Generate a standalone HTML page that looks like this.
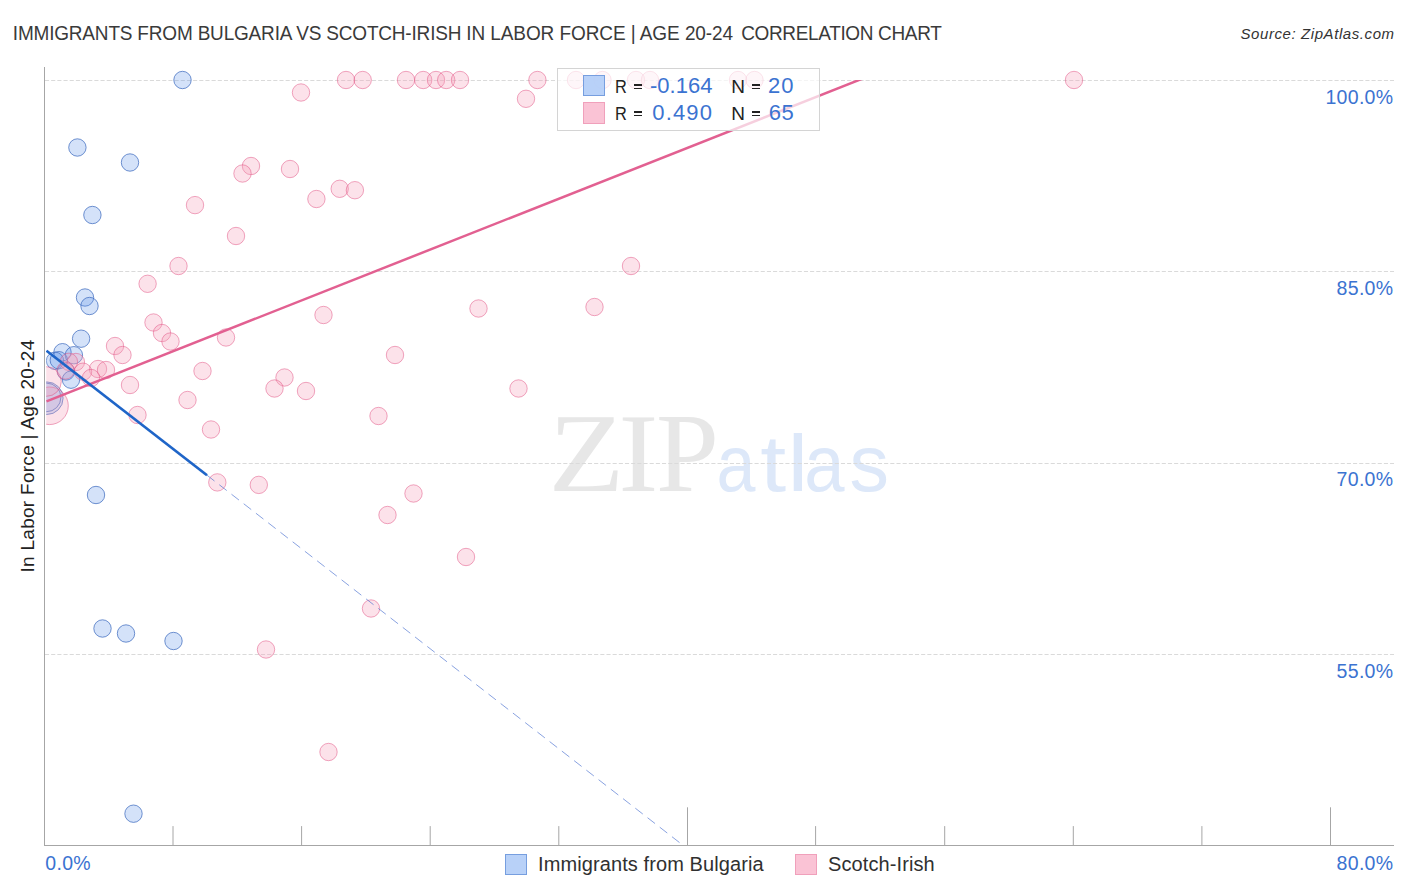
<!DOCTYPE html>
<html><head><meta charset="utf-8">
<style>
html,body{margin:0;padding:0;background:#fff;}
body{width:1406px;height:892px;position:relative;overflow:hidden;font-family:"Liberation Sans",sans-serif;}
svg{position:absolute;left:0;top:0;}
.t{position:absolute;white-space:nowrap;line-height:1;}
.tt{top:23.8px;font-size:19px;color:#3a3a3a;transform-origin:0 16.1px;transform:scaleY(1.07);}
#src{left:1240.5px;top:26px;font-size:15px;font-style:italic;color:#333;letter-spacing:0.58px;}
.yl{font-size:19.5px;color:#3b73d1;letter-spacing:0.3px;}
#ylab{left:26.6px;top:455.6px;font-size:19px;letter-spacing:0.28px;color:#222;transform:translate(-50%,-50%) rotate(-90deg);}
.g{stroke:#dadada;stroke-width:1;stroke-dasharray:4.1 2.07;}
.ax{stroke:#a6a6a6;stroke-width:1;}
.b{fill:rgba(100,150,235,0.28);stroke:rgba(60,105,190,0.72);stroke-width:1;}
.b2{fill:rgba(100,150,235,0.12);stroke:rgba(60,105,190,0.72);stroke-width:1;}
.p{fill:rgba(245,160,185,0.30);stroke:rgba(225,80,130,0.5);stroke-width:1;}
#leg{left:557px;top:68px;width:260.5px;height:61px;border:1px solid #d4d4d4;background:rgba(255,255,255,0.7);box-sizing:content-box;}
.sw{position:absolute;width:20px;height:19px;box-sizing:content-box;}
.swb{background:rgba(178,205,247,0.92);border:1px solid #769edf;}
.swp{background:#fac3d5;border:1px solid #f0a0bb;}
.lt{color:#222;}
.lb{color:#3b73d1;}
.bl{font-size:20px;color:#303030;letter-spacing:0.1px;}
</style></head><body>
<div class="t tt" style="left:12.8px;letter-spacing:-0.19px;">IMMIGRANTS FROM BULGARIA VS SCOTCH-IRISH IN</div><div class="t tt" style="left:490.2px;letter-spacing:-0.075px;">LABOR FORCE | AGE 20-24</div><div class="t tt" style="left:741.2px;letter-spacing:-0.35px;">CORRELATION CHART</div>
<div class="t" id="src">Source: ZipAtlas.com</div>
<svg width="1406" height="892" viewBox="0 0 1406 892">
<defs>
<clipPath id="cp"><rect x="46.2" y="60" width="1360" height="785"/></clipPath>
<clipPath id="cl"><rect x="46" y="80" width="1360" height="765"/></clipPath>
</defs>
<g font-family="Liberation Serif, serif" font-size="109" fill="#e7e7e7">
<text transform="translate(548.4,491) scale(1.14,1.021)">Z</text>
<text transform="translate(618.4,491) scale(1.096,1.021)">I</text>
<text transform="translate(655.9,491) scale(1.038,1.021)">P</text>
</g>
<g font-family="Liberation Sans, sans-serif" font-size="79" fill="#dde8f9">
<text transform="translate(716.5,491) scale(0.886,1)">a</text>
<text transform="translate(760.2,491) scale(1.18,1)">t</text>
<text transform="translate(787.5,491) scale(1.18,1)">l</text>
<text transform="translate(804.3,491) scale(0.916,1)">a</text>
<text transform="translate(849.4,491) scale(1.0,1)">s</text>
</g>
<line class="g" x1="45" x2="1394" y1="80.5" y2="80.5"/>
<line class="g" x1="45" x2="1394" y1="271.5" y2="271.5"/>
<line class="g" x1="45" x2="1394" y1="463.5" y2="463.5"/>
<line class="g" x1="45" x2="1394" y1="654.5" y2="654.5"/>
<line class="ax" x1="44.5" x2="44.5" y1="67" y2="846"/>
<line class="ax" x1="44" x2="1394" y1="845.5" y2="845.5"/>
<line class="ax" x1="173.0" x2="173.0" y1="826.1" y2="845"/>
<line class="ax" x1="301.6" x2="301.6" y1="826.1" y2="845"/>
<line class="ax" x1="430.2" x2="430.2" y1="826.1" y2="845"/>
<line class="ax" x1="558.8" x2="558.8" y1="826.1" y2="845"/>
<line class="ax" x1="687.5" x2="687.5" y1="807.3" y2="845"/>
<line class="ax" x1="815.6" x2="815.6" y1="826.1" y2="845"/>
<line class="ax" x1="944.7" x2="944.7" y1="826.1" y2="845"/>
<line class="ax" x1="1073.3" x2="1073.3" y1="826.1" y2="845"/>
<line class="ax" x1="1201.9" x2="1201.9" y1="826.1" y2="845"/>
<line class="ax" x1="1330.5" x2="1330.5" y1="807.3" y2="845"/>
<g clip-path="url(#cp)">
<circle class="b" cx="46.8" cy="398.2" r="16.3"/>
<circle class="b2" cx="46.6" cy="397.4" r="14.3"/>
<circle class="b" cx="182.5" cy="80" r="8.7"/>
<circle class="b" cx="77.4" cy="147.5" r="8.7"/>
<circle class="b" cx="130" cy="162.5" r="8.7"/>
<circle class="b" cx="92.4" cy="215" r="8.7"/>
<circle class="b" cx="85" cy="297.5" r="8.7"/>
<circle class="b" cx="89.5" cy="306" r="8.7"/>
<circle class="b" cx="81.1" cy="338.7" r="8.7"/>
<circle class="b" cx="62.5" cy="352.2" r="8.7"/>
<circle class="b" cx="73.9" cy="355.2" r="8.7"/>
<circle class="b" cx="55" cy="360.8" r="8.7"/>
<circle class="b" cx="58.8" cy="360.2" r="8.7"/>
<circle class="b" cx="66" cy="371.5" r="8.7"/>
<circle class="b" cx="71" cy="379.7" r="8.7"/>
<circle class="b" cx="96" cy="495" r="8.7"/>
<circle class="b" cx="102.5" cy="628.5" r="8.7"/>
<circle class="b" cx="126" cy="633.5" r="8.7"/>
<circle class="b" cx="173.5" cy="641" r="8.7"/>
<circle class="b" cx="133.5" cy="813.7" r="8.7"/>
<circle class="p" cx="49.5" cy="405.8" r="18.8"/>
<circle class="p" cx="46.5" cy="381.5" r="14.8"/>
<circle class="p" cx="346" cy="80" r="8.7"/>
<circle class="p" cx="362.7" cy="80" r="8.7"/>
<circle class="p" cx="406" cy="80" r="8.7"/>
<circle class="p" cx="423.2" cy="80" r="8.7"/>
<circle class="p" cx="436" cy="80" r="8.7"/>
<circle class="p" cx="446.2" cy="80" r="8.7"/>
<circle class="p" cx="460" cy="80" r="8.7"/>
<circle class="p" cx="537.4" cy="80" r="8.7"/>
<circle class="p" cx="576" cy="80" r="8.7"/>
<circle class="p" cx="602.5" cy="80" r="8.7"/>
<circle class="p" cx="636" cy="80" r="8.7"/>
<circle class="p" cx="650" cy="80" r="8.7"/>
<circle class="p" cx="738" cy="80" r="8.7"/>
<circle class="p" cx="754.5" cy="80" r="8.7"/>
<circle class="p" cx="1074" cy="80" r="8.7"/>
<circle class="p" cx="301" cy="92.5" r="8.7"/>
<circle class="p" cx="526" cy="98.8" r="8.7"/>
<circle class="p" cx="251" cy="166" r="8.7"/>
<circle class="p" cx="242.5" cy="173.5" r="8.7"/>
<circle class="p" cx="290" cy="169" r="8.7"/>
<circle class="p" cx="339.7" cy="188.8" r="8.7"/>
<circle class="p" cx="354.9" cy="190.2" r="8.7"/>
<circle class="p" cx="316.4" cy="199" r="8.7"/>
<circle class="p" cx="195" cy="205.1" r="8.7"/>
<circle class="p" cx="236" cy="236" r="8.7"/>
<circle class="p" cx="178.5" cy="266" r="8.7"/>
<circle class="p" cx="631" cy="266" r="8.7"/>
<circle class="p" cx="147.6" cy="283.8" r="8.7"/>
<circle class="p" cx="478.5" cy="308.5" r="8.7"/>
<circle class="p" cx="594.5" cy="307" r="8.7"/>
<circle class="p" cx="323.5" cy="315" r="8.7"/>
<circle class="p" cx="153.5" cy="322.5" r="8.7"/>
<circle class="p" cx="162" cy="333" r="8.7"/>
<circle class="p" cx="170.5" cy="341.5" r="8.7"/>
<circle class="p" cx="226" cy="337.5" r="8.7"/>
<circle class="p" cx="115" cy="346" r="8.7"/>
<circle class="p" cx="122.5" cy="355" r="8.7"/>
<circle class="p" cx="395" cy="355" r="8.7"/>
<circle class="p" cx="202.5" cy="371" r="8.7"/>
<circle class="p" cx="98" cy="369" r="8.7"/>
<circle class="p" cx="106" cy="370" r="8.7"/>
<circle class="p" cx="284.5" cy="377.5" r="8.7"/>
<circle class="p" cx="274.5" cy="388.5" r="8.7"/>
<circle class="p" cx="306" cy="391" r="8.7"/>
<circle class="p" cx="518.5" cy="388.5" r="8.7"/>
<circle class="p" cx="130" cy="385" r="8.7"/>
<circle class="p" cx="187.5" cy="400" r="8.7"/>
<circle class="p" cx="137.5" cy="415" r="8.7"/>
<circle class="p" cx="378.5" cy="416" r="8.7"/>
<circle class="p" cx="211" cy="429.5" r="8.7"/>
<circle class="p" cx="75.9" cy="362" r="8.7"/>
<circle class="p" cx="68.9" cy="361.8" r="8.7"/>
<circle class="p" cx="83" cy="371.7" r="8.7"/>
<circle class="p" cx="91" cy="378" r="8.7"/>
<circle class="p" cx="65.5" cy="370.5" r="8.7"/>
<circle class="p" cx="217.3" cy="482.4" r="8.7"/>
<circle class="p" cx="258.8" cy="484.9" r="8.7"/>
<circle class="p" cx="413.5" cy="493.5" r="8.7"/>
<circle class="p" cx="387.5" cy="515" r="8.7"/>
<circle class="p" cx="466" cy="557" r="8.7"/>
<circle class="p" cx="371" cy="608.5" r="8.7"/>
<circle class="p" cx="266" cy="649.5" r="8.7"/>
<circle class="p" cx="328.5" cy="752" r="8.7"/>
</g>
<g clip-path="url(#cl)">
<line x1="46.5" y1="401.3" x2="870" y2="75.65" stroke="#e26091" stroke-width="2.5"/>
<line x1="207" y1="475.2" x2="700" y2="858.5" stroke="rgba(65,105,205,0.62)" stroke-width="1" stroke-dasharray="9.5 6"/>
<line x1="46.5" y1="350.7" x2="207" y2="475.2" stroke="#1f65c8" stroke-width="2.7"/>
</g>
</svg>
<div class="t yl" style="right:12.6px;top:87.9px;">100.0%</div>
<div class="t yl" style="right:12.6px;top:278.9px;">85.0%</div>
<div class="t yl" style="right:12.6px;top:470.4px;">70.0%</div>
<div class="t yl" style="right:12.6px;top:661.8px;">55.0%</div>
<div class="t yl" style="left:45.3px;top:853.8px;">0.0%</div>
<div class="t yl" style="right:12.6px;top:853.8px;">80.0%</div>
<div class="t" id="ylab">In Labor Force | Age 20-24</div>
<div class="t" id="leg"></div>
<div class="sw swb" style="left:583px;top:75px;"></div>
<div class="sw swp" style="left:583px;top:102.3px;height:19.5px;"></div>
<div class="t lt" style="left:615px;top:76.82px;font-size:19px;letter-spacing:0px;transform-origin:0 0;transform:scaleX(0.86);">R</div><div style="position:absolute;left:633.6px;top:84.10px;width:8.2px;height:1.5px;background:#222;"></div><div style="position:absolute;left:633.6px;top:87.95px;width:8.2px;height:1.5px;background:#222;"></div><div class="t lb" style="left:650px;top:74.78px;font-size:22px;letter-spacing:0px;transform-origin:0 0;transform:scaleX(1.0);">-0.164</div><div class="t lt" style="left:731.2px;top:76.82px;font-size:19px;letter-spacing:0px;transform-origin:0 0;transform:scaleX(1.0);">N</div><div style="position:absolute;left:752.0px;top:84.10px;width:8.2px;height:1.5px;background:#222;"></div><div style="position:absolute;left:752.0px;top:87.95px;width:8.2px;height:1.5px;background:#222;"></div><div class="t lb" style="left:768px;top:74.78px;font-size:22px;letter-spacing:1.0px;transform-origin:0 0;transform:scaleX(1.0);">20</div><div class="t lt" style="left:615px;top:103.72px;font-size:19px;letter-spacing:0px;transform-origin:0 0;transform:scaleX(0.86);">R</div><div style="position:absolute;left:633.6px;top:111.00px;width:8.2px;height:1.5px;background:#222;"></div><div style="position:absolute;left:633.6px;top:114.85px;width:8.2px;height:1.5px;background:#222;"></div><div class="t lb" style="left:652.3px;top:101.78px;font-size:22px;letter-spacing:1.15px;transform-origin:0 0;transform:scaleX(1.0);">0.490</div><div class="t lt" style="left:731.2px;top:103.72px;font-size:19px;letter-spacing:0px;transform-origin:0 0;transform:scaleX(1.0);">N</div><div style="position:absolute;left:752.0px;top:111.00px;width:8.2px;height:1.5px;background:#222;"></div><div style="position:absolute;left:752.0px;top:114.85px;width:8.2px;height:1.5px;background:#222;"></div><div class="t lb" style="left:768.7px;top:101.78px;font-size:22px;letter-spacing:0.5px;transform-origin:0 0;transform:scaleX(1.0);">65</div>
<div class="sw swb" style="left:505px;top:854px;height:18.6px;"></div>
<div class="t bl" style="left:538px;top:854px;">Immigrants from Bulgaria</div>
<div class="sw swp" style="left:795px;top:854px;height:18.6px;"></div>
<div class="t bl" style="left:828px;top:854px;">Scotch-Irish</div>
</body></html>
